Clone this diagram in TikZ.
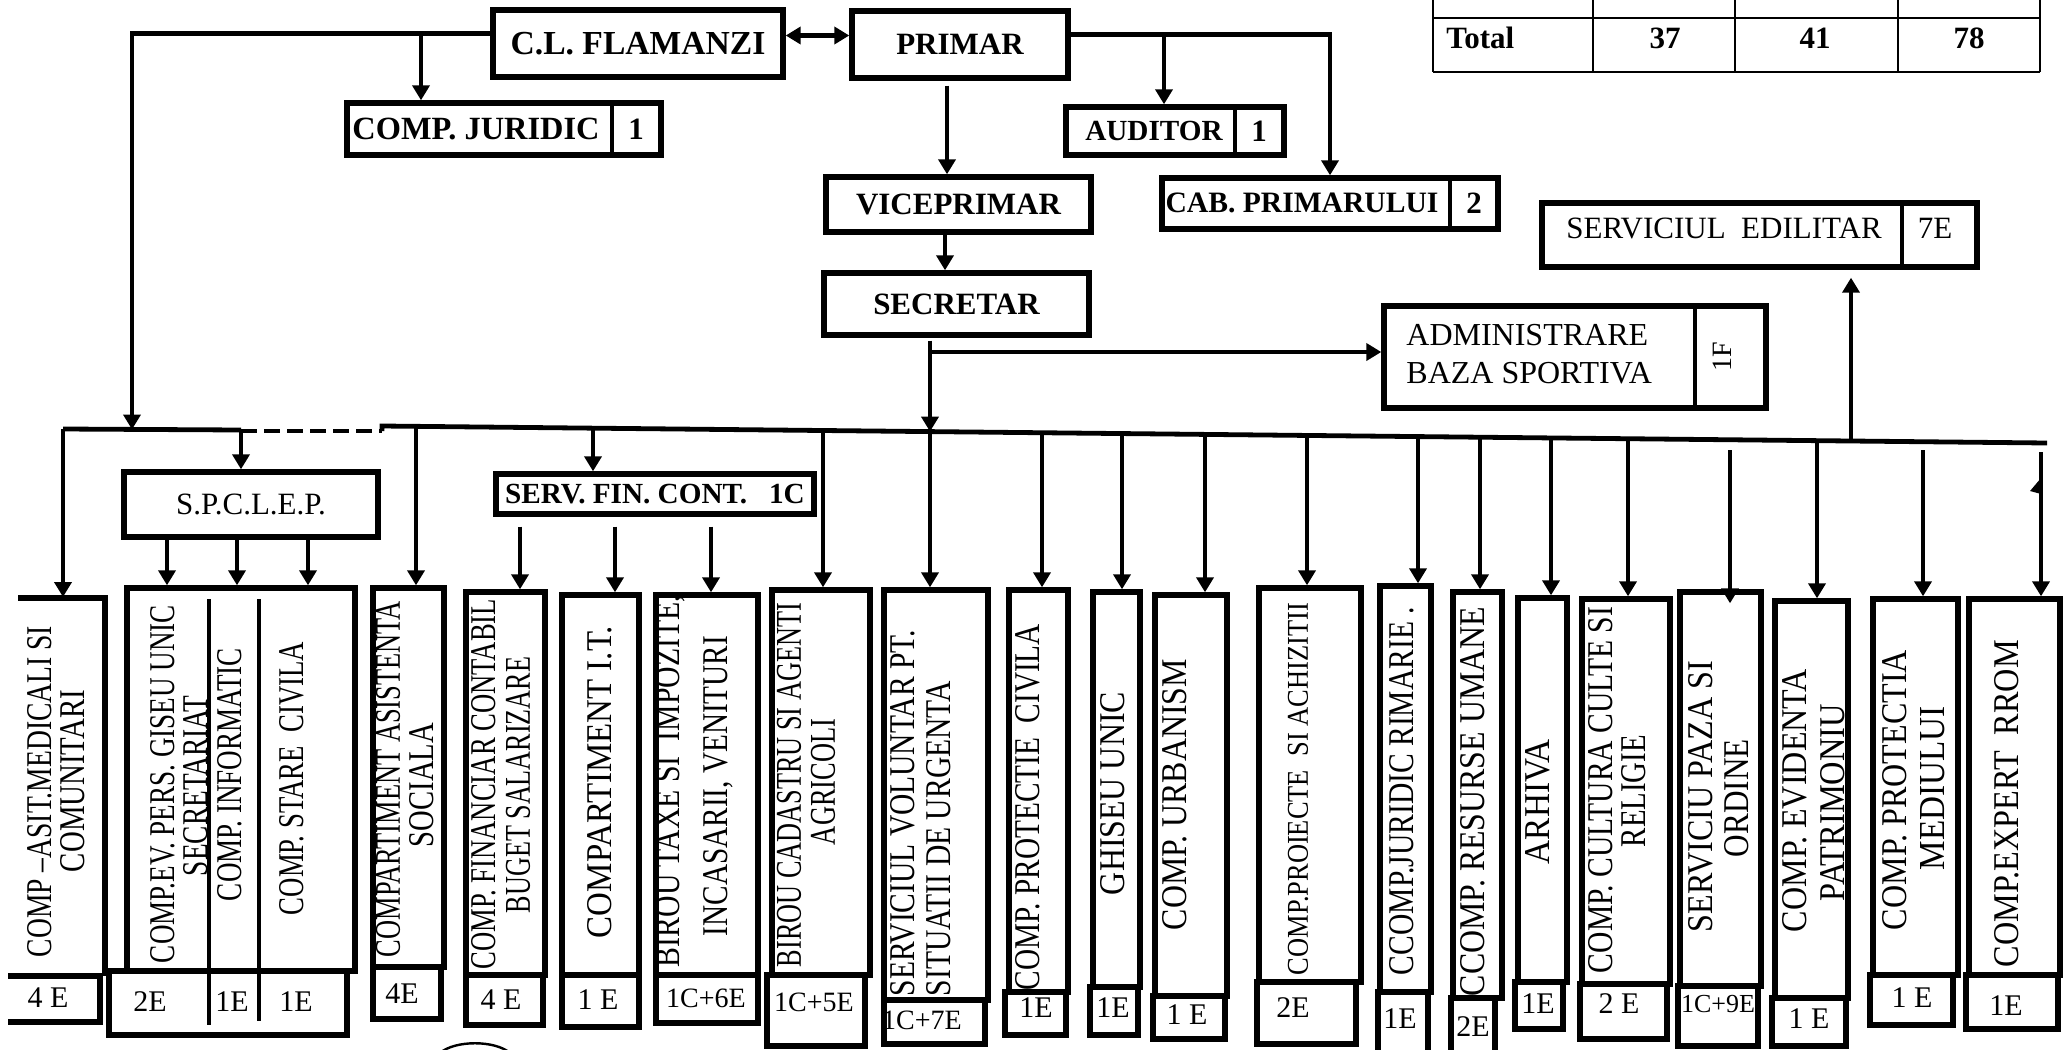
\documentclass[tikz,border=0pt]{standalone}
\usepackage{fontspec}
\setmainfont{Liberation Serif}
\usepackage{graphicx}
\usetikzlibrary{arrows.meta,calc}
\tikzset{
  boxst/.style={draw,line width=2.7pt,inner sep=0pt},
  ln/.style={line width=2.4pt},
  arr/.style={line width=2.4pt,-{Triangle[length=7.5pt,width=8.5pt]}},
  dv/.style={line width=2.4pt},
  tbl/.style={line width=1.4pt},
  vtxt/.style={rotate=90,inner sep=0pt},
  lbl/.style={font=\fontsize{15}{17}\selectfont,inner sep=0pt},
  lbls/.style={font=\fontsize{14}{16}\selectfont,inner sep=0pt},
  btxt/.style={font=\fontsize{15.5}{18}\selectfont\bfseries,inner sep=0pt},
  btxtl/.style={font=\fontsize{16.8}{19}\selectfont\bfseries,inner sep=0pt},
  btxts/.style={font=\fontsize{14.6}{17}\selectfont\bfseries,inner sep=0pt},
  rtxt/.style={font=\fontsize{15.5}{18}\selectfont,inner sep=0pt}
}
% rectangle node from pixel corners
\newcommand\rbox[7][]{\node[boxst,#1,minimum width={(#5-#3)*0.5pt},minimum height={(#6-#4)*0.5pt}] (#2) at ({(#3+#5)/2},{(#4+#6)/2}) {#7};}
% column box: upper cell + lower cell
\newcommand\col[8]{\rbox{#1}{#2}{#3}{#4}{#5}{}\rbox{#1L}{#6}{#5}{#7}{#8}{}}
% vertical text fitted between bottom and top
\newcommand\vt[6][12pt]{\node[vtxt] (#2) at (#3,{(#4+#5)/2}) {\resizebox{\dimexpr(#4pt-#5pt)/2\relax}{#1}{#6}};}
\begin{document}
\begin{tikzpicture}[x=0.5pt,y=-0.5pt]
\fill[white] (0,0) rectangle (2064,1049);
\useasboundingbox (0,0) rectangle (2064,1049);

% ---------- top table ----------
\draw[tbl] (1433,18) -- (2040,18);
\draw[tbl] (1433,72) -- (2040,72);
\foreach \xx in {1433,1593,1735,1898,2040} {\draw[tbl] (\xx,-2) -- (\xx,72);}
\node[btxt,anchor=west] (ttot) at (1446,38) {Total};
\node[btxt] (t37) at (1665,38) {37};
\node[btxt] (t41) at (1815,38) {41};
\node[btxt] (t78) at (1969,38) {78};

% ---------- top boxes ----------
\rbox[btxtl]{cl}{493}{10}{783}{77}{C.L. FLAMANZI}
\rbox[btxt]{primar}{852}{11}{1068}{78}{PRIMAR}
\rbox[btxt]{vice}{826}{177}{1091}{232}{VICEPRIMAR}
\rbox[btxt]{secr}{824}{273}{1089}{335}{SECRETAR}

\rbox{juridic}{347}{103}{661}{155}{}
\draw[dv] (612,103) -- (612,155);
\node[btxt,font=\fontsize{16.2}{19}\selectfont\bfseries] (tjur) at (476,129) {COMP. JURIDIC};
\node[btxt] (njur) at (636,129) {1};

\rbox{auditor}{1066}{107}{1284}{155}{}
\draw[dv] (1235,107) -- (1235,155);
\node[btxts] (taud) at (1154,131) {AUDITOR};
\node[btxt] (naud) at (1259,131) {1};

\rbox{cab}{1162}{178}{1498}{229}{}
\draw[dv] (1450,178) -- (1450,229);
\node[btxts,font=\fontsize{14.8}{17}\selectfont\bfseries] (tcab) at (1302,203) {CAB. PRIMARULUI};
\node[btxt] (ncab) at (1474,203) {2};

\rbox{edil}{1542}{203}{1977}{267}{}
\draw[dv] (1902,203) -- (1902,267);
\node[rtxt] (tedil) at (1724,228) {SERVICIUL\ \ EDILITAR};
\node[rtxt] (nedil) at (1935,228) {7E};

\rbox{admin}{1384}{306}{1766}{408}{}
\draw[dv] (1695,306) -- (1695,408);
\node[font=\fontsize{16}{19}\selectfont,align=left,anchor=west,inner sep=0pt] (tadmin) at (1406,354) {ADMINISTRARE\\BAZA SPORTIVA};
\node[rotate=90,font=\fontsize{14}{15}\selectfont,inner sep=0pt] (nadmin) at (1722,357) {1F};

% ---------- top connectors ----------
\coordinate (bL) at (132,429.5);
\draw[arr] ([yshift=5pt]cl.west) -| (bL);
\coordinate (jj) at (421,33.5);
\draw[arr] (jj) -- (jj |- juridic.north);
\draw[line width=2.4pt,{Triangle[length=7.5pt,width=8.5pt]}-{Triangle[length=7.5pt,width=8.5pt]}] ([yshift=4pt]cl.east) -- ([yshift=4pt]cl.east -| primar.west);
\draw[arr] ([yshift=5pt]primar.east) -| (cab.north);
\coordinate (ja) at (1164,34.5);
\draw[arr] (ja) -- (ja |- auditor.north);
\coordinate (pv) at (947,0);
\draw[arr] ([yshift=-2.5pt]primar.south -| pv) -- (vice.north -| pv);
\coordinate (vs) at (945,0);
\draw[arr] (vice.south -| vs) -- (secr.north -| vs);
\coordinate (sx) at (930,0);
\coordinate (b930) at (930,431.6);
\draw[arr] ([yshift=-1.5pt]secr.south -| sx) -- (b930);
\coordinate (sa) at (930,352);
\draw[arr] (sa) -- (sa -| admin.west);
\coordinate (b1851) at (1851,441);
\draw[arr,shorten >=4pt] (b1851) -- (b1851 |- edil.south);

% ---------- bus ----------
\coordinate (busA) at (63,429);
\coordinate (busB) at (241,430);
\coordinate (busB2) at (241,431);
\coordinate (busC1) at (382,431);
\coordinate (busC) at (382,426);
\coordinate (busD) at (2047,443);
\draw[ln] (busA) -- (busB);
\draw[ln,dash pattern=on 8pt off 3.5pt] (busB2) -- (busC1);
\draw[ln] (busC1) -- (busC) -- (busD);

% ---------- S.P.C.L.E.P. group ----------
\rbox[rtxt]{spclep}{124}{472}{378}{537}{S.P.C.L.E.P.}
\draw[arr] (busB) -- (busB |- spclep.north);
\rbox{grp}{127}{588}{355}{971}{}
\rbox{grpL}{109}{971}{347}{1035}{}
\draw[dv] (209,599) -- (209,1025);
\draw[dv] (259,599) -- (259,1021);
\coordinate (g1) at (167,0);
\coordinate (g2) at (237,0);
\coordinate (g3) at (308,0);
\draw[arr] (spclep.south -| g1) -- (grp.north -| g1);
\draw[arr] (spclep.south -| g2) -- (grp.north -| g2);
\draw[arr] (spclep.south -| g3) -- (grp.north -| g3);

% ---------- COMP ASIT (cut at left edge) ----------
\draw[line width=2.7pt] (18,598) -- (105,598) -- (105,976);
\draw[line width=2.7pt] (8,976) -- (100,976) -- (100,1022) -- (8,1022);
\coordinate (asitT) at (63,597);
\draw[arr] (busA) -- (asitT);

% ---------- SERV. FIN. CONT. ----------
\rbox[btxts]{sfc}{496}{474}{814}{514}{SERV. FIN. CONT.\ \ \ 1C}
\coordinate (jsfc) at (593,428.2);
\draw[arr] (jsfc) -- (jsfc |- sfc.north);

% ---------- columns ----------
\col{ast}{373}{588}{444}{967}{373}{441}{1019}
\col{fin}{466}{592}{545}{975}{466}{543}{1025}
\col{it}{562}{595}{639}{975}{562}{639}{1027}
\col{tax}{656}{595}{758}{975}{656}{758}{1023}
\col{cad}{772}{590}{870}{975}{767}{865}{1046}
\col{vol}{884}{590}{988}{1000}{884}{985}{1044}
\col{pro}{1009}{590}{1068}{992}{1005}{1066}{1035}
\col{ghi}{1093}{592}{1140}{987}{1090}{1138}{1035}
\col{urb}{1155}{595}{1227}{996}{1153}{1225}{1039}
\col{pri}{1259}{588}{1361}{982}{1257}{1356}{1044}
\col{jrm}{1380}{586}{1431}{992}{1378}{1428}{1065}
\col{res}{1453}{592}{1502}{998}{1451}{1495}{1065}
\col{arh}{1518}{598}{1567}{982}{1515}{1563}{1029}
\col{cul}{1582}{599}{1670}{984}{1580}{1667}{1039}
\col{paz}{1680}{592}{1761}{986}{1678}{1758}{1046}
\col{evi}{1775}{601}{1848}{998}{1772}{1846}{1046}
\col{med}{1873}{599}{1958}{975}{1870}{1953}{1025}
\col{exp}{1969}{599}{2060}{975}{1966}{2058}{1029}

% arrows from SERV. FIN. CONT.
\coordinate (f1) at (520,0);
\coordinate (f2) at (615,0);
\coordinate (f3) at (711,0);
\draw[arr] ([yshift=-5pt]sfc.south -| f1) -- (fin.north -| f1);
\draw[arr] ([yshift=-5pt]sfc.south -| f2) -- (it.north -| f2);
\draw[arr] ([yshift=-5pt]sfc.south -| f3) -- (tax.north -| f3);

% drops from the bus
\coordinate (jast) at (416,426.3);
\draw[arr] (jast) -- (jast |- ast.north);
\coordinate (jcad) at (823,430.5);
\draw[arr] (jcad) -- (jcad |- cad.north);
\draw[arr] (b930) -- (b930 |- vol.north);
\coordinate (jpro) at (1042,432.7);
\draw[arr] (jpro) -- (jpro |- pro.north);
\coordinate (jghi) at (1122,433.5);
\draw[arr] (jghi) -- (jghi |- ghi.north);
\coordinate (jurb) at (1205,434.4);
\draw[arr] (jurb) -- (jurb |- urb.north);
\coordinate (jpri) at (1307,435.4);
\draw[arr] (jpri) -- (jpri |- pri.north);
\coordinate (jjrm) at (1418,436.6);
\draw[arr] (jjrm) -- (jjrm |- jrm.north);
\coordinate (jres) at (1480,437.2);
\draw[arr] (jres) -- (jres |- res.north);
\coordinate (jarh) at (1551,437.9);
\draw[arr] (jarh) -- (jarh |- arh.north);
\coordinate (jcul) at (1628,438.7);
\draw[arr] (jcul) -- (jcul |- cul.north);
\coordinate (jpaz) at (1730,450);
\draw[arr] (jpaz) -- ([yshift=-7pt]jpaz |- paz.north);
\coordinate (jevi) at (1817,440.6);
\draw[arr] (jevi) -- (jevi |- evi.north);
\coordinate (jmed) at (1923,450);
\draw[arr] (jmed) -- (jmed |- med.north);
\coordinate (jexp) at (2041,452);
\draw[arr] (jexp) -- (jexp |- exp.north);
\fill (2041,478) -- (2030,491) -- (2041,494) -- cycle;

% ---------- vertical texts ----------
\vt{tasita}{40}{957}{626}{COMP –ASIT.MEDICALI SI}
\vt{tasitb}{73}{872}{690}{COMUNITARI}
\vt{tgrpa}{163}{963}{605}{COMP.EV. PERS. GISEU UNIC}
\vt{tgrpb}{196}{876}{696}{SECRETARIAT}
\vt{tinf}{230}{901}{648}{COMP. INFORMATIC}
\vt{tsc}{292}{915}{642}{COMP. STARE\ \ CIVILA}
\vt{tasta}{388}{957}{601}{COMPARTIMENT ASISTENTA}
\vt{tastb}{422}{847}{723}{SOCIALA}
\vt{tfina}{484}{969}{599}{COMP. FINANCIAR CONTABIL}
\vt{tfinb}{518}{913}{657}{BUGET SALARIZARE}
\vt{tit}{600}{938}{626}{COMPARTIMENT I.T.}
\vt{ttaxa}{670}{967}{595}{BIROU TAXE SI\ \ IMPOZITE,}
\vt{ttaxb}{718}{936}{636}{INCASARII, VENITURI}
\vt{tcada}{789}{967}{603}{BIROU CADASTRU SI AGENTI}
\vt{tcadb}{823}{845}{719}{AGRICOLI}
\vt{tvola}{903}{996}{630}{SERVICIUL VOLUNTAR PT.}
\vt{tvolb}{939}{996}{681}{SITUATII DE URGENTA}
\vt{tpro}{1028}{990}{624}{COMP. PROTECTIE\ \ CIVILA}
\vt{tghi}{1113}{895}{692}{GHISEU UNIC}
\vt{turb}{1175}{930}{659}{COMP. URBANISM}
\vt[10pt]{tpri}{1298}{975}{603}{COMP.PROIECTE\ \ SI ACHIZITII}
\vt{tjrm}{1402}{975}{607}{CCOMP.JURIDIC RIMARIE .}
\vt{tres}{1473}{996}{607}{CCOMP. RESURSE UMANE}
\vt{tarh}{1538}{864}{739}{ARHIVA}
\vt{tcula}{1601}{973}{607}{COMP. CULTURA CULTE SI}
\vt{tculb}{1634}{847}{735}{RELIGIE}
\vt{tpaza}{1701}{932}{661}{SERVICIU PAZA SI}
\vt{tpazb}{1737}{857}{739}{ORDINE}
\vt{tevia}{1795}{932}{669}{COMP. EVIDENTA}
\vt{tevib}{1833}{901}{704}{PATRIMONIU}
\vt{tmeda}{1895}{930}{650}{COMP. PROTECTIA}
\vt{tmedb}{1933}{870}{706}{MEDIULUI}
\vt{texp}{2007}{967}{640}{COMP.EXPERT\ \ RROM}

% ---------- bottom labels ----------
\node[lbl] (lasit) at (48,998) {4 E};
\node[lbl] (lg1) at (150,1002) {2E};
\node[lbl] (lg2) at (232,1002) {1E};
\node[lbl] (lg3) at (296,1002) {1E};
\node[lbl] (last) at (402,994) {4E};
\node[lbl] (lfin) at (501,1000) {4 E};
\node[lbl] (lit) at (598,1000) {1 E};
\node[lbls] (ltax) at (706,998) {1C+6E};
\node[lbls] (lcad) at (814,1002) {1C+5E};
\node[lbls] (lvol) at (922,1020) {1C+7E};
\node[lbl] (lpro) at (1036,1008) {1E};
\node[lbl] (lghi) at (1113,1008) {1E};
\node[lbl] (lurb) at (1187,1015) {1 E};
\node[lbl] (lpri) at (1293,1008) {2E};
\node[lbl] (ljrm) at (1400,1019) {1E};
\node[lbl] (lres) at (1473,1027) {2E};
\node[lbl] (larh) at (1538,1004) {1E};
\node[lbl] (lcul) at (1619,1004) {2 E};
\node[font=\fontsize{13}{15}\selectfont,inner sep=0pt] (lpaz) at (1718,1004) {1C+9E};
\node[lbl] (levi) at (1809,1019) {1 E};
\node[lbl] (lmed) at (1912,998) {1 E};
\node[lbl] (lexp) at (2006,1006) {1E};

% ---------- stamp fragment ----------
\draw[line width=1.2pt] (440,1053) .. controls (455,1040) and (495,1040) .. (510,1053);
\end{tikzpicture}
\end{document}
